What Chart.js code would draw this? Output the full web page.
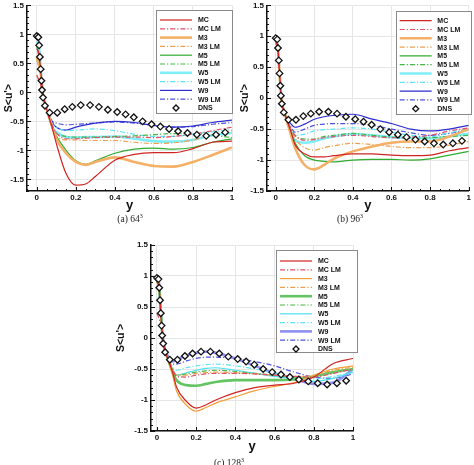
<!DOCTYPE html>
<html>
<head>
<meta charset="utf-8">
<script src="https://cdn.jsdelivr.net/npm/chart.js@4.4.1/dist/chart.umd.min.js"></script>
<style>
    html, body { margin: 0; padding: 0; background: #fff; }
    body { width: 474px; height: 465px; position: relative; overflow: hidden; }
    .panel { position: absolute; }
    .cap { position: absolute; font-family: "Liberation Serif", "DejaVu Serif", serif; font-size: 9.5px; color: #222;
        white-space: nowrap; transform: translate(-50%, -50%); }
    .cap sup { font-size: 6px; vertical-align: 4px; }
</style>
</head>
<body>
<div class="panel" style="left:0;top:0"><canvas id="c64" width="240" height="215"></canvas></div>
<div class="panel" style="left:238px;top:0"><canvas id="c96" width="236" height="215"></canvas></div>
<div class="panel" style="left:110px;top:236px"><canvas id="c128" width="250" height="225"></canvas></div>
<div class="cap" style="left:130px;top:218px">(a) 64<sup>3</sup></div>
<div class="cap" style="left:350px;top:218px">(b) 96<sup>3</sup></div>
<div class="cap" style="left:229px;top:462px">(c) 128<sup>3</sup></div>
<script>
    // wall distance grid of the LES curves
    var wallDist = [0, 0.01, 0.02, 0.03, 0.05, 0.08, 0.1, 0.15, 0.2, 0.25, 0.3, 0.4, 0.5, 0.6, 0.7, 0.8, 0.9, 1.0];

    var xTicks = [0, 0.2, 0.4, 0.6, 0.8, 1];
    var yTicks = [-1.5, -1, -0.5, 0, 0.5, 1, 1.5];

    var seriesNames = ['MC', 'MC LM', 'M3', 'M3 LM', 'M5', 'M5 LM', 'W5', 'W5 LM', 'W9', 'W9 LM'];

    // (a) 64^3
    var mc_64 = [0.75, 0.68, 0.38, 0.02, -0.28, -0.62, -0.88, -1.4, -1.6, -1.58, -1.45, -1.17, -1.07, -1.04, -1.04, -0.97, -0.86, -0.84];
    var mcLm_64 = [0.3, 0.22, 0.12, -0.04, -0.3, -0.58, -0.7, -0.8, -0.8, -0.79, -0.78, -0.77, -0.77, -0.78, -0.76, -0.72, -0.66, -0.6];
    var m3_64 = [0.6, 0.5, 0.33, 0.0, -0.27, -0.6, -0.8, -1.05, -1.2, -1.25, -1.2, -1.12, -1.2, -1.27, -1.28, -1.2, -1.08, -0.95];
    var m3Lm_64 = [0.3, 0.2, 0.14, -0.03, -0.3, -0.62, -0.75, -0.82, -0.82, -0.83, -0.83, -0.83, -0.86, -0.88, -0.87, -0.82, -0.73, -0.66];
    var m5_64 = [0.8, 0.62, 0.4, 0.0, -0.26, -0.6, -0.75, -1.0, -1.18, -1.24, -1.18, -1.05, -0.98, -0.96, -0.98, -0.95, -0.86, -0.8];
    var m5Lm_64 = [0.55, 0.45, 0.3, 0.0, -0.27, -0.6, -0.7, -0.76, -0.77, -0.77, -0.77, -0.76, -0.75, -0.73, -0.71, -0.71, -0.74, -0.78];
    var w5_64 = [0.88, 0.82, 0.42, -0.02, -0.27, -0.6, -0.68, -0.77, -0.78, -0.77, -0.77, -0.76, -0.8, -0.84, -0.85, -0.82, -0.74, -0.7];
    var w5Lm_64 = [0.85, 0.75, 0.4, -0.02, -0.27, -0.55, -0.6, -0.66, -0.65, -0.64, -0.63, -0.66, -0.72, -0.76, -0.76, -0.72, -0.68, -0.64];
    var w9_64 = [0.95, 0.87, 0.42, -0.02, -0.27, -0.52, -0.6, -0.65, -0.6, -0.56, -0.53, -0.5, -0.52, -0.57, -0.6, -0.58, -0.52, -0.48];
    var w9Lm_64 = [0.92, 0.84, 0.41, -0.03, -0.28, -0.5, -0.53, -0.56, -0.55, -0.54, -0.53, -0.51, -0.53, -0.57, -0.6, -0.59, -0.55, -0.52];

    // (b) 96^3
    var mc_96 = [0.9, 0.85, 0.4, -0.02, -0.28, -0.55, -0.75, -0.9, -0.95, -0.95, -0.93, -0.9, -0.9, -0.92, -0.93, -0.92, -0.85, -0.8];
    var mcLm_96 = [0.88, 0.82, 0.38, -0.03, -0.28, -0.5, -0.6, -0.68, -0.67, -0.64, -0.62, -0.6, -0.62, -0.64, -0.63, -0.6, -0.53, -0.48];
    var m3_96 = [0.9, 0.85, 0.4, -0.02, -0.28, -0.6, -0.8, -1.08, -1.15, -1.08, -0.98, -0.86, -0.78, -0.72, -0.7, -0.7, -0.62, -0.5];
    var m3Lm_96 = [0.88, 0.82, 0.38, -0.03, -0.28, -0.5, -0.65, -0.8, -0.84, -0.8, -0.77, -0.73, -0.75, -0.78, -0.8, -0.8, -0.76, -0.7];
    var m5_96 = [0.92, 0.86, 0.42, -0.01, -0.27, -0.55, -0.72, -0.93, -1.0, -1.02, -1.03, -1.0, -0.99, -0.99, -1.0, -0.98, -0.92, -0.86];
    var m5Lm_96 = [0.88, 0.83, 0.4, -0.02, -0.28, -0.5, -0.6, -0.66, -0.66, -0.62, -0.6, -0.57, -0.6, -0.63, -0.65, -0.64, -0.62, -0.6];
    var w5_96 = [0.92, 0.86, 0.42, -0.01, -0.27, -0.55, -0.68, -0.72, -0.7, -0.65, -0.62, -0.58, -0.6, -0.63, -0.64, -0.65, -0.62, -0.57];
    var w5Lm_96 = [0.9, 0.84, 0.4, -0.02, -0.28, -0.5, -0.6, -0.58, -0.53, -0.51, -0.5, -0.48, -0.5, -0.55, -0.6, -0.62, -0.56, -0.5];
    var w9_96 = [0.96, 0.88, 0.42, -0.01, -0.27, -0.42, -0.47, -0.42, -0.34, -0.3, -0.28, -0.26, -0.34, -0.41, -0.5, -0.53, -0.5, -0.44];
    var w9Lm_96 = [0.94, 0.86, 0.41, -0.02, -0.28, -0.47, -0.55, -0.5, -0.44, -0.42, -0.41, -0.41, -0.44, -0.5, -0.56, -0.6, -0.57, -0.5];

    // (c) 128^3
    var mc_128 = [0.9, 0.84, 0.4, -0.02, -0.28, -0.55, -0.79, -1.02, -1.13, -1.08, -1.0, -0.88, -0.8, -0.76, -0.73, -0.63, -0.41, -0.33];
    var mcLm_128 = [0.4, 0.32, 0.2, -0.03, -0.29, -0.5, -0.62, -0.63, -0.6, -0.58, -0.57, -0.57, -0.58, -0.6, -0.62, -0.63, -0.57, -0.5];
    var m3_128 = [0.9, 0.84, 0.4, -0.02, -0.28, -0.6, -0.85, -1.08, -1.18, -1.12, -1.05, -0.95, -0.85, -0.78, -0.72, -0.6, -0.5, -0.45];
    var m3Lm_128 = [0.88, 0.82, 0.38, -0.03, -0.28, -0.5, -0.6, -0.6, -0.57, -0.56, -0.55, -0.56, -0.58, -0.6, -0.62, -0.6, -0.52, -0.47];
    var m5_128 = [0.92, 0.86, 0.42, -0.01, -0.27, -0.55, -0.68, -0.76, -0.77, -0.74, -0.71, -0.68, -0.68, -0.68, -0.67, -0.62, -0.55, -0.5];
    var m5Lm_128 = [0.9, 0.84, 0.4, -0.02, -0.28, -0.5, -0.6, -0.58, -0.55, -0.53, -0.52, -0.54, -0.57, -0.6, -0.63, -0.62, -0.56, -0.5];
    var w5_128 = [0.92, 0.86, 0.42, -0.01, -0.27, -0.5, -0.6, -0.56, -0.52, -0.49, -0.48, -0.52, -0.57, -0.62, -0.66, -0.7, -0.65, -0.55];
    var w5Lm_128 = [0.9, 0.84, 0.4, -0.02, -0.28, -0.46, -0.52, -0.48, -0.45, -0.43, -0.42, -0.45, -0.5, -0.57, -0.63, -0.66, -0.62, -0.55];
    var w9_128 = [0.97, 0.9, 0.44, 0.0, -0.25, -0.38, -0.35, -0.28, -0.24, -0.22, -0.24, -0.33, -0.45, -0.57, -0.66, -0.74, -0.72, -0.5];
    var w9Lm_128 = [0.95, 0.87, 0.42, -0.02, -0.27, -0.42, -0.42, -0.37, -0.33, -0.31, -0.31, -0.33, -0.38, -0.45, -0.55, -0.63, -0.65, -0.58];

    // DNS reference (same in every panel)
    var dnsY = [0.0, 0.008, 0.012, 0.016, 0.02, 0.024, 0.027, 0.032, 0.042, 0.066, 0.105, 0.143, 0.182, 0.225, 0.273,
        0.318, 0.364, 0.412, 0.455, 0.497, 0.542, 0.588, 0.633, 0.678, 0.724, 0.772, 0.82, 0.868, 0.918, 0.965];
    var dnsS = [0.97, 0.95, 0.81, 0.61, 0.4, 0.2, 0.04, -0.09, -0.23, -0.35, -0.35, -0.29, -0.25, -0.22, -0.22,
        -0.25, -0.3, -0.34, -0.38, -0.43, -0.5, -0.55, -0.59, -0.63, -0.67, -0.7, -0.73, -0.75, -0.73, -0.69];

    var thinColors = ['#d02424', '#e0506a', '#f2a03c', '#eea050', '#30ac30', '#44b844', '#4fe0f0', '#5ee4f2', '#2e2ed0', '#5050e0'];
    var thickColors = {'M3': '#f4b066', 'W5': '#80eef8', 'M5': '#62c462', 'W9': '#8f8ff2'};
    var sansFont = '"Liberation Sans", Arial, sans-serif';

    function toPoints(xs, ys) {
        return xs.map(function (x, i) { return {x: x, y: ys[i]}; });
    }

    function fmt(v) {
        return String(Math.round(v * 10) / 10);
    }

    var panelDecor = {
        id: 'panelDecor',
        afterDraw: function (chart, args, lg) {
            var ctx = chart.ctx, area = chart.chartArea, xs = chart.scales.x, ys = chart.scales.y, v, p, major;
            ctx.save();
            // inward ticks on the left and bottom axes
            ctx.strokeStyle = '#111';
            ctx.lineWidth = 1;
            for (v = Math.ceil(ys.min * 10 - 1e-6); v <= Math.floor(ys.max * 10 + 1e-6); v++) {
                major = v % 5 === 0;
                p = Math.round(ys.getPixelForValue(v / 10)) + 0.5;
                ctx.beginPath();
                ctx.moveTo(area.left, p);
                ctx.lineTo(area.left + (major ? 4 : 2), p);
                ctx.stroke();
            }
            for (v = Math.ceil(xs.min * 20 - 1e-6); v <= Math.floor(xs.max * 20 + 1e-6); v++) {
                major = v % 4 === 0;
                p = Math.round(xs.getPixelForValue(v / 20)) + 0.5;
                ctx.beginPath();
                ctx.moveTo(p, area.bottom);
                ctx.lineTo(p, area.bottom - (major ? 4 : 2));
                ctx.stroke();
            }

            // legend box inside the plot
            ctx.fillStyle = '#fff';
            ctx.fillRect(lg.left, lg.top, lg.width, lg.height);
            ctx.strokeStyle = '#8a8a8a';
            ctx.strokeRect(Math.round(lg.left) + 0.5, Math.round(lg.top) + 0.5, Math.round(lg.width), Math.round(lg.height));
            ctx.font = 'bold 7px ' + sansFont;
            ctx.textBaseline = 'middle';
            chart.data.datasets.forEach(function (ds, i) {
                var ry = lg.top + lg.first + i * 8.8, x0 = lg.left + 4, x1 = lg.left + 36;
                if (ds.showLine === false) {
                    var cx = (x0 + x1) / 2;
                    ctx.setLineDash([]);
                    ctx.lineWidth = 1.3;
                    ctx.strokeStyle = '#111';
                    ctx.fillStyle = '#fff';
                    ctx.beginPath();
                    ctx.moveTo(cx, ry - 3);
                    ctx.lineTo(cx + 3, ry);
                    ctx.lineTo(cx, ry + 3);
                    ctx.lineTo(cx - 3, ry);
                    ctx.closePath();
                    ctx.fill();
                    ctx.stroke();
                } else {
                    ctx.setLineDash(ds.borderDash || []);
                    ctx.lineWidth = ds.borderWidth;
                    ctx.strokeStyle = ds.borderColor;
                    ctx.beginPath();
                    ctx.moveTo(x0, ry);
                    ctx.lineTo(x1, ry);
                    ctx.stroke();
                }
                ctx.setLineDash([]);
                ctx.fillStyle = '#111';
                ctx.fillText(ds.label, lg.left + lg.text, ry + 0.5);
            });
            ctx.restore();
        }
    };

    function buildPanel(id, series, opt) {
        var datasets = seriesNames.map(function (name, i) {
            var thick = opt.thick.indexOf(name) >= 0;
            return {
                label: name,
                data: toPoints(wallDist, series[i]),
                borderColor: thick ? thickColors[name] : thinColors[i],
                borderWidth: thick ? 2.6 : 1.2,
                borderDash: name.indexOf('LM') > 0 ? [5, 2, 1.2, 2] : [],
                pointRadius: 0,
                cubicInterpolationMode: 'monotone',
                fill: false
            };
        });
        datasets.push({
            label: 'DNS',
            data: toPoints(dnsY, dnsS),
            showLine: false,
            pointStyle: 'rectRot',
            pointRadius: 3.3,
            pointBorderWidth: 1.3,
            pointBorderColor: '#111',
            pointBackgroundColor: '#fff',
            borderColor: '#111',
            backgroundColor: '#fff',
            order: -1
        });

        return new Chart(document.getElementById(id), {
            type: 'line',
            data: {datasets: datasets},
            plugins: [panelDecor],
            options: {
                responsive: false,
                animation: false,
                events: [],
                layout: {padding: opt.pad},
                plugins: {
                    legend: {display: false},
                    tooltip: {enabled: false},
                    panelDecor: opt.legend
                },
                scales: {
                    x: {
                        type: 'linear',
                        min: opt.xMin,
                        max: 1,
                        afterBuildTicks: function (s) {
                            s.ticks = xTicks.map(function (v) { return {value: v}; });
                        },
                        afterFit: function (s) {
                            s.height = opt.xH;
                            s.paddingLeft = s.paddingRight = 0;
                        },
                        ticks: {font: {family: sansFont, size: 8, weight: 'bold'}, color: '#111', padding: 2,
                            maxRotation: 0, autoSkip: false, callback: fmt},
                        grid: {color: '#e6e6e6', drawTicks: false},
                        border: {color: '#111', width: 1.5},
                        title: {display: true, text: 'y', color: '#111',
                            font: {family: sansFont, size: 13, weight: 'bold'}, padding: {top: 0, bottom: opt.xTitlePad}}
                    },
                    y: {
                        type: 'linear',
                        min: opt.yMin,
                        max: 1.5,
                        afterBuildTicks: function (s) {
                            s.ticks = yTicks.map(function (v) { return {value: v}; });
                        },
                        afterFit: function (s) {
                            s.width = opt.yW;
                            s.paddingTop = s.paddingBottom = 0;
                        },
                        ticks: {font: {family: sansFont, size: 8, weight: 'bold'}, color: '#111', padding: 3,
                            autoSkip: false, callback: fmt},
                        grid: {color: '#e6e6e6', drawTicks: false},
                        border: {color: '#111', width: 1.5},
                        title: {display: true, text: "S<u'>", color: '#111',
                            font: {family: sansFont, size: 10.5, weight: 'bold'}, padding: {top: opt.yTitlePad, bottom: 0}}
                    }
                }
            }
        });
    }

    buildPanel('c64', [mc_64, mcLm_64, m3_64, m3Lm_64, m5_64, m5Lm_64, w5_64, w5Lm_64, w9_64, w9Lm_64], {
        thick: ['M3', 'W5'], xMin: -0.05, yMin: -1.7, pad: {top: 3, right: 8, left: 0, bottom: 0},
        yW: 27, xH: 24, xTitlePad: 2, yTitlePad: 3,
        legend: {left: 156, top: 10, width: 76, height: 103, first: 10, text: 42}
    });
    buildPanel('c96', [mc_96, mcLm_96, m3_96, m3Lm_96, m5_96, m5Lm_96, w5_96, w5Lm_96, w9_96, w9Lm_96], {
        thick: ['M3', 'W5'], xMin: -0.045, yMin: -1.5, pad: {top: 3, right: 2, left: 0, bottom: 0},
        yW: 29, xH: 24, xTitlePad: 2, yTitlePad: 1,
        legend: {left: 157.7, top: 10.7, width: 74.5, height: 102.6, first: 10, text: 41.6}
    });
    buildPanel('c128', [mc_128, mcLm_128, m3_128, m3Lm_128, m5_128, m5Lm_128, w5_128, w5Lm_128, w9_128, w9Lm_128], {
        thick: ['M5', 'W9'], xMin: -0.03, yMin: -1.5, pad: {top: 9, right: 7, left: 0, bottom: 0},
        yW: 41, xH: 30, xTitlePad: 6.5, yTitlePad: 5,
        legend: {left: 166, top: 14, width: 80.5, height: 102, first: 11, text: 42}
    });
</script>
</body>
</html>
